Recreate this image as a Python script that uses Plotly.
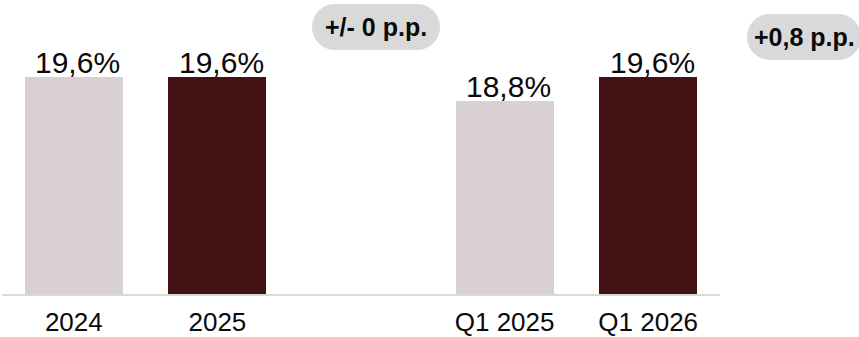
import plotly.graph_objects as go

# Categories and their positions (slot 2 is left empty as a separator)
categories = ["2024", "2025", "Q1 2025", "Q1 2026"]
slots = [0, 1, 3, 4]
values = [19.6, 19.6, 18.8, 19.6]
value_labels = ["19,6%", "19,6%", "18,8%", "19,6%"]
bar_colors = ["#D9D0D2", "#421215", "#D9D0D2", "#421215"]
change_labels = ["+/- 0 p.p.", "+0,8 p.p."]

W, H = 859, 337
ML, MR, MT, MB = 2, 139, 0, 43
PW, PH = W - ML - MR, H - MT - MB

FONT = "Arial, Liberation Sans, sans-serif"


def px_to_paper(px, py):
    return (px - ML) / PW, (H - MB - py) / PH


def pill_path(x0, y0, x1, y1):
    """Rounded (stadium) rectangle given in pixel coordinates, returned in paper coordinates."""
    r = (y1 - y0) / 2
    k = 0.5523 * r
    pts = [
        ("M", [(x0 + r, y0)]),
        ("L", [(x1 - r, y0)]),
        ("C", [(x1 - r + k, y0), (x1, y0 + r - k), (x1, y0 + r)]),
        ("C", [(x1, y0 + r + k), (x1 - r + k, y1), (x1 - r, y1)]),
        ("L", [(x0 + r, y1)]),
        ("C", [(x0 + r - k, y1), (x0, y0 + r + k), (x0, y0 + r)]),
        ("C", [(x0, y0 + r - k), (x0 + r - k, y0), (x0 + r, y0)]),
    ]
    out = []
    for cmd, plist in pts:
        coords = []
        for px, py in plist:
            a, b = px_to_paper(px, py)
            coords.append(f"{a:.5f},{b:.5f}")
        out.append(cmd + " " + " ".join(coords))
    return " ".join(out) + " Z"


fig = go.Figure()
fig.add_trace(
    go.Bar(
        x=slots,
        y=values,
        marker=dict(color=bar_colors, line=dict(width=0)),
        width=0.683,
        hoverinfo="skip",
    )
)

# value labels above the bars
for s, v, t in zip(slots, values, value_labels):
    fig.add_annotation(
        x=s, y=v, text=t, showarrow=False,
        xref="x", yref="y", yanchor="middle", yshift=15, xshift=4,
        font=dict(family=FONT, size=30, color="#0a0a0a"),
    )

# change pills
pills = [((312, 4, 440, 50), change_labels[0]), ((747, 14, 861, 60), change_labels[1])]
for (x0, y0, x1, y1), txt in pills:
    fig.add_shape(
        type="path", xref="paper", yref="paper",
        path=pill_path(x0, y0, x1, y1),
        fillcolor="#D9D9D9", line=dict(width=0), layer="below",
    )
    cx, cy = px_to_paper((x0 + x1) / 2, (y0 + y1) / 2)
    fig.add_annotation(
        x=cx, y=cy, xref="paper", yref="paper", showarrow=False,
        xanchor="center", yanchor="middle",
        text=f"<b>{txt}</b>",
        font=dict(family=FONT, size=25, color="#0a0a0a"),
    )

fig.update_layout(
    width=W, height=H,
    margin=dict(l=ML, r=MR, t=MT, b=MB),
    paper_bgcolor="white", plot_bgcolor="white",
    showlegend=False,
    bargap=0,
    xaxis=dict(
        range=[-0.5, 4.5],
        tickmode="array", tickvals=slots, ticktext=categories,
        showgrid=False, zeroline=False,
        showline=True, linecolor="#D9D9D9", linewidth=1.5,
        ticks="", ticklabelstandoff=4,
        tickfont=dict(family=FONT, size=26, color="#0a0a0a"),
    ),
    yaxis=dict(
        range=[12.37, 22.17], visible=False, showgrid=False, zeroline=False,
    ),
)

fig.write_html("out.html")
